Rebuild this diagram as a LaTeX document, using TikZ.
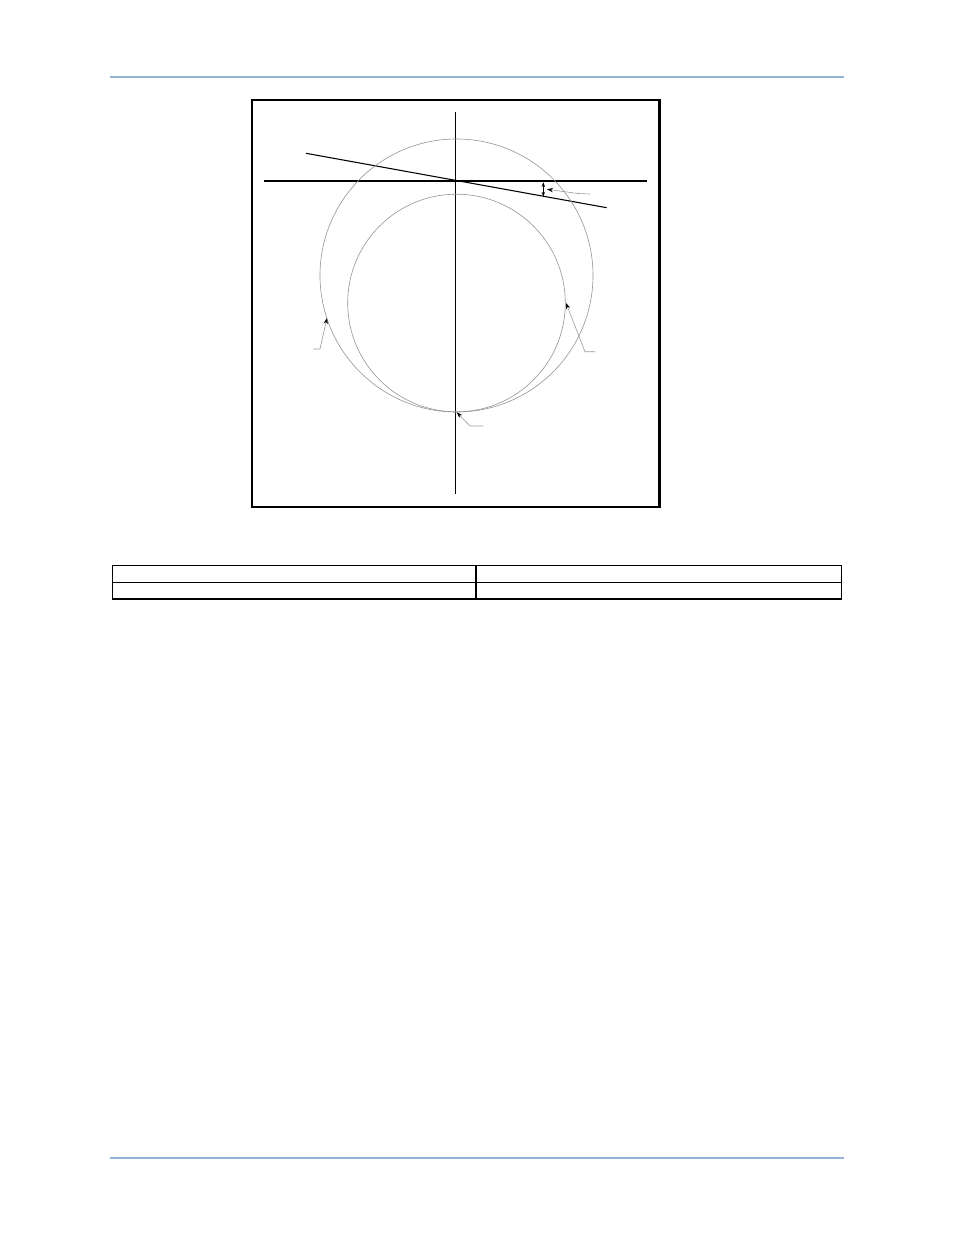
\documentclass[tikz,border=0pt]{standalone}
\usepackage{tikz}
\usetikzlibrary{arrows.meta}
\definecolor{rulebl}{RGB}{149,179,215}
\begin{document}
\begin{tikzpicture}[x=0.75pt, y=-0.75pt, >={Stealth[length=4.5pt,width=3.2pt]},
	axis/.style={draw=black, line width=0.8pt},
	circ/.style={draw=gray!85, line width=0.45pt},
	lead/.style={draw=gray!80, line width=0.45pt},
	tip/.style={-{Stealth[black,length=4.5pt,width=3.2pt]}}]
		\useasboundingbox (0,0) rectangle (954,1235);
		%Page rules
		\draw[rulebl, line width=1.6pt] (110,76.7) -- (843.7,76.7);
		\draw[rulebl, line width=1.6pt] (110,1157.7) -- (843.7,1157.7);
		%Frame
		\draw[line width=1.6pt] (252,100) rectangle (659.5,507);
		%Axes
		\coordinate (o) at (455.3,181);
		\coordinate (ytop) at (455.3,111.7);
		\coordinate (ybot) at (455.3,494.3);
		\coordinate (xleft) at (264,181);
		\coordinate (xright) at (646.7,181);
		\draw[axis] (ytop) -- (ybot);
		\draw[axis] (xleft) -- (xright);
		%Tilted line
		\coordinate (tl) at (306,153.3);
		\coordinate (tr) at (606.7,207.7);
		\draw[axis] (tl) -- (tr);
		%Circles
		\draw[circ] (456.5,275.5) circle (136.5);
		\draw[circ] (456.5,303) circle (108.8);
		%Angle
		\coordinate (a1) at (543.3,182.3);
		\coordinate (a2) at (543.3,196.5);
		\draw[line width=0.5pt, {Stealth[length=3.5pt,width=2.6pt]}-{Stealth[length=3.5pt,width=2.6pt]}] (a1) -- (a2);
		%Leaders
		\coordinate (angend) at (590,194);
		\coordinate (angbend) at (578,193.5);
		\coordinate (angtip) at (547,189.3);
		\draw[lead, tip] (angend) -- (angbend) -- (angtip);
		\coordinate (lend) at (313.3,349);
		\coordinate (lbend) at (320,349);
		\coordinate (ltip) at (327,318);
		\draw[lead, tip] (lend) -- (lbend) -- (ltip);
		\coordinate (rend) at (595,351.7);
		\coordinate (rbend) at (585,351.7);
		\coordinate (rtip) at (566,303);
		\draw[lead, tip] (rend) -- (rbend) -- (rtip);
		\coordinate (bend) at (483.3,426);
		\coordinate (bbend) at (470,426);
		\coordinate (btip) at (456.8,412.3);
		\draw[lead, tip] (bend) -- (bbend) -- (btip);
		%Table
		\draw[line width=1pt] (112.3,565.7) rectangle (841.7,599);
		\draw[line width=1pt] (112.3,582.7) -- (841.7,582.7);
		\draw[line width=1pt] (476,565.7) -- (476,599);
\end{tikzpicture}
\end{document}
